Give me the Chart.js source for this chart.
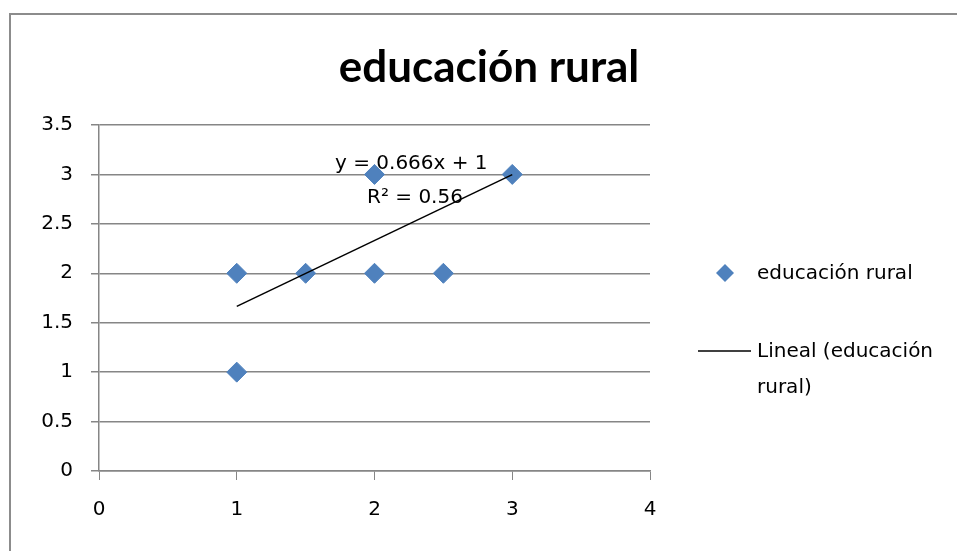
<!DOCTYPE html>
<html>
<head>
<meta charset="utf-8">
<script src="https://cdn.jsdelivr.net/npm/chart.js@4/dist/chart.umd.min.js"></script>
<style>
  html, body { margin: 0; padding: 0; background: #fff; }
  #wrap { width: 957px; height: 551px; }
</style>
</head>
<body>
<div id="wrap"><canvas id="chart" width="957" height="551"></canvas></div>
<script>
const chartTitle = 'educación rural';
const seriesName = 'educación rural';
const trendName = ['Lineal (educación', 'rural)'];
const xValues = [1, 1, 1.5, 2, 2, 2.5, 3];
const yValues = [2, 1, 2, 2, 3, 2, 3];
const trendX = [1, 3];
const trendY = [1.666, 2.998];
const trendLabels = ['y = 0.666x + 1', 'R² = 0.56'];
const xTicks = [0, 1, 2, 3, 4];
const yTicks = [0, 0.5, 1, 1.5, 2, 2.5, 3, 3.5];

const FONT = '"DejaVu Sans", sans-serif';
const TITLE_FONT = 'Lato, "Open Sans", sans-serif';
const BLUE = '#4F81BD';
const GRID = '#868686';

const extras = {
    id: 'extras',
    afterDraw(chart) {
        const ctx = chart.ctx;
        ctx.save();
        // outer frame
        ctx.strokeStyle = '#8c8c8c';
        ctx.lineWidth = 2;
        ctx.beginPath();
        ctx.moveTo(10, 560);
        ctx.lineTo(10, 14);
        ctx.lineTo(960, 14);
        ctx.stroke();

        // title
        ctx.fillStyle = '#000';
        ctx.textAlign = 'center';
        ctx.textBaseline = 'middle';
        ctx.font = 'bold 44px ' + TITLE_FONT;
        ctx.fillText(chartTitle, 489, 68);

        // trendline equation
        ctx.font = '20px ' + FONT;
        ctx.textAlign = 'left';
        ctx.fillText(trendLabels[0], 335, 164);
        ctx.fillText(trendLabels[1], 367, 198);

        // legend
        ctx.fillStyle = BLUE;
        ctx.beginPath();
        ctx.moveTo(725 - 9, 273);
        ctx.lineTo(725, 273 - 9);
        ctx.lineTo(725 + 9, 273);
        ctx.lineTo(725, 273 + 9);
        ctx.closePath();
        ctx.fill();
        ctx.strokeStyle = '#000';
        ctx.lineWidth = 1.5;
        ctx.beginPath();
        ctx.moveTo(698, 351);
        ctx.lineTo(751, 351);
        ctx.stroke();
        ctx.fillStyle = '#000';
        ctx.font = '20px ' + FONT;
        ctx.fillText(seriesName, 757, 274);
        ctx.fillText(trendName[0], 757, 352);
        ctx.fillText(trendName[1], 757, 388);
        ctx.restore();
    }
};

new Chart(document.getElementById('chart').getContext('2d'), {
    type: 'scatter',
    data: {
        datasets: [{
            label: trendName.join(' '),
            type: 'line',
            data: trendX.map((x, i) => ({ x: x, y: trendY[i] })),
            borderColor: '#000',
            borderWidth: 1.5,
            pointRadius: 0,
            fill: false,
            order: 0
        }, {
            label: seriesName,
            data: xValues.map((x, i) => ({ x: x, y: yValues[i] })),
            pointStyle: 'rectRot',
            pointRadius: 10,
            pointHoverRadius: 10,
            backgroundColor: BLUE,
            borderColor: BLUE,
            borderWidth: 1,
            order: 1
        }]
    },
    options: {
        responsive: false,
        animation: false,
        events: [],
        layout: { padding: { left: 0, right: 307, top: 125, bottom: 20 } },
        plugins: {
            legend: { display: false },
            title: { display: false },
            tooltip: { enabled: false }
        },
        scales: {
            x: {
                type: 'linear',
                min: xTicks[0],
                max: xTicks[xTicks.length - 1],
                afterBuildTicks: (s) => { s.ticks = xTicks.map(v => ({ value: v })); },
                afterFit: (s) => { s.height = 60; },
                grid: { drawOnChartArea: false, color: GRID, tickLength: 9 },
                border: { color: GRID, width: 1.5 },
                ticks: { color: '#000', font: { family: FONT, size: 20 }, padding: 18,
                         callback: (v) => String(v) }
            },
            y: {
                type: 'linear',
                min: yTicks[0],
                max: yTicks[yTicks.length - 1],
                afterBuildTicks: (s) => { s.ticks = yTicks.map(v => ({ value: v })); },
                afterFit: (s) => { s.width = 99; },
                grid: { color: GRID, lineWidth: 1.5, tickLength: 8 },
                border: { color: GRID, width: 1.5 },
                ticks: { color: '#000', font: { family: FONT, size: 20 }, padding: 18,
                         callback: (v) => String(v) }
            }
        }
    },
    plugins: [extras]
});
</script>
</body>
</html>
